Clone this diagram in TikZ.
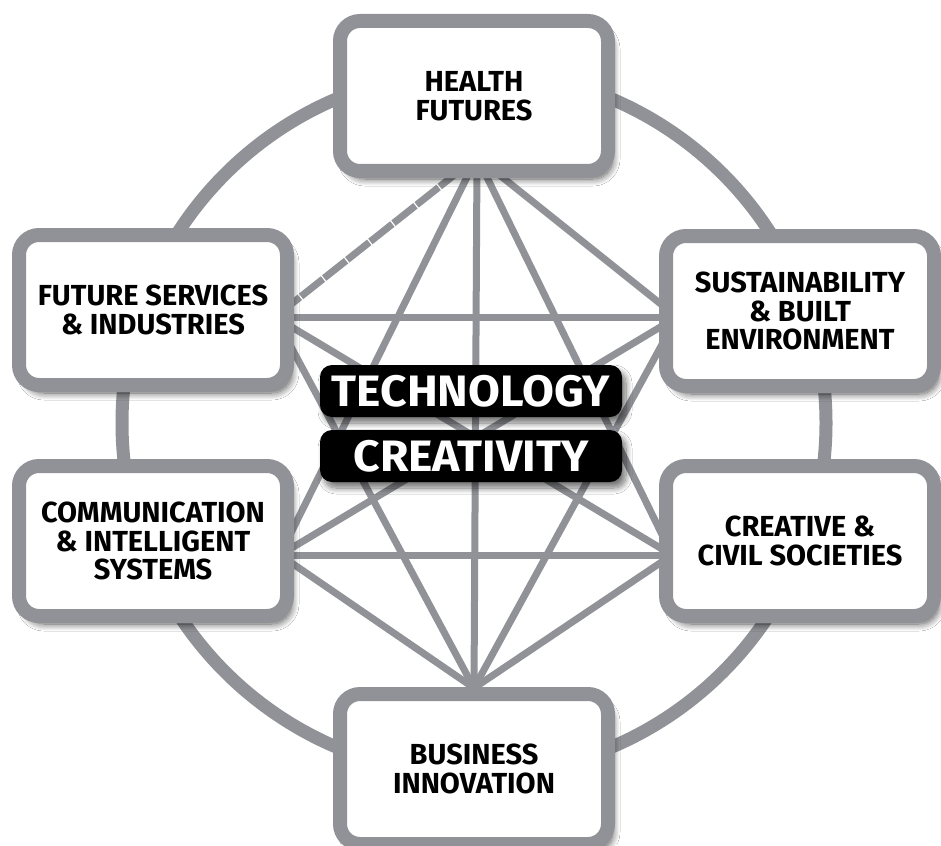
\documentclass[tikz,border=0pt]{standalone}
\usepackage{fontspec}
\newfontfamily\din{Fira Sans}
\newfontfamily\dinwide[FakeStretch=1.05]{Fira Sans}
\usetikzlibrary{shadows.blur}
\definecolor{ringgray}{RGB}{145,146,151}
\begin{document}
\begin{tikzpicture}[x=1pt,y=-1pt,
  box/.style={draw=ringgray, line width=14pt, fill=white, rounded corners=20pt,
    minimum width=268pt, minimum height=150pt, inner sep=0pt, align=center,
    font=\din\bfseries\fontsize{29}{28.5}\selectfont,
    blur shadow={shadow xshift=5pt, shadow yshift=-8pt, shadow blur radius=7pt,
      shadow blur steps=12, shadow opacity=65}},
  tag/.style={fill=black, text=white, rounded corners=12pt, minimum width=302pt,
    minimum height=52pt, inner sep=0pt,
    font=\dinwide\bfseries\fontsize{44}{44}\selectfont,
    blur shadow={shadow xshift=4pt, shadow yshift=-6pt, shadow blur radius=6pt,
      shadow blur steps=10, shadow opacity=55}},
  link/.style={draw=ringgray, line width=7pt},
  ring/.style={draw=ringgray, line width=13pt}]
\useasboundingbox (0,0) rectangle (941,845);
\clip (0,0) rectangle (941,845);
\fill[white] (0,0) rectangle (941,845);

% ring
\draw[ring] (474,423) circle[radius=352pt];

% anchor points of the links
\coordinate (pH)  at (477,157);
\coordinate (pFS) at (275,317);
\coordinate (pSB) at (677,317);
\coordinate (pCI) at (280,555);
\coordinate (pCC) at (672,555);
\coordinate (pBI) at (474,688);

% links (complete graph)
\draw[link, dash pattern=on 28pt off 1.5pt, dash phase=10pt] (pH) -- (pFS);
\draw[link] (pH) -- (pSB);
\draw[link] (pH) -- (pCI);
\draw[link] (pH) -- (pCC);
\draw[link] (pH) -- (pBI);
\draw[link] (pFS) -- (pSB);
\draw[link] (pFS) -- (pCC);
\draw[link] (pFS) -- (pBI);
\draw[link] (pSB) -- (pCI);
\draw[link] (pSB) -- (pBI);
\draw[link] (pCI) -- (pCC);
\draw[link] (pCI) -- (pBI);
\draw[link] (pCC) -- (pBI);

% central tags
\node[tag] (tech) at (471,391) {TECHNOLOGY};
\node[tag] (crea) at (471,456) {CREATIVITY};

% boxes
\node[box] (h)  at (474,96)  {HEALTH\\FUTURES};
\node[box] (fs) at (153,310) {FUTURE SERVICES\\\& INDUSTRIES};
\node[box] (sb) at (800,311) {SUSTAINABILITY\\\& BUILT\\ENVIRONMENT};
\node[box] (ci) at (153,541) {COMMUNICATION\\\& INTELLIGENT\\SYSTEMS};
\node[box] (cc) at (800,541) {CREATIVE \&\\CIVIL SOCIETIES};
\node[box] (bi) at (474,769) {BUSINESS\\INNOVATION};
\end{tikzpicture}
\end{document}
